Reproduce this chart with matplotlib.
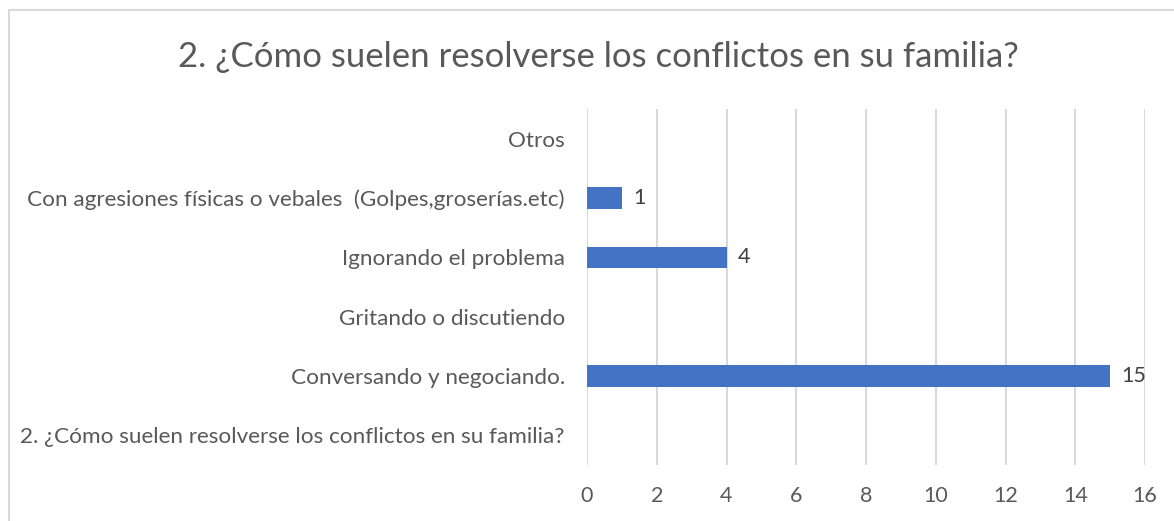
import numpy as np
import matplotlib
matplotlib.use("Agg")
import matplotlib.pyplot as plt
from matplotlib.patches import Rectangle

title = "2. ¿Cómo suelen resolverse los conflictos en su familia?"
categories = [
    "2. ¿Cómo suelen resolverse los conflictos en su familia?",
    "Conversando y negociando.",
    "Gritando o discutiendo",
    "Ignorando el problema",
    "Con agresiones físicas o vebales  (Golpes,groserías.etc)",
    "Otros",
]
values = [None, 15, None, 4, 1, None]
xticks = [0, 2, 4, 6, 8, 10, 12, 14, 16]

plt.rcParams['font.family'] = ['Lato', 'DejaVu Sans']
text_color = "#595959"
grid_color = "#d9d9d9"
bar_color = "#4472c4"

fig = plt.figure(figsize=(11.74, 5.21), dpi=100)
ax = fig.add_axes([587/1174, 1-465/521, (1145-587)/1174, (465-109)/521])

vals = np.array([np.nan if v is None else v for v in values], dtype=float)
y = np.arange(len(categories))
ax.barh(y, np.nan_to_num(vals), height=0.36, color=bar_color, zorder=3)
for yi, v in zip(y, vals):
    if not np.isnan(v):
        ax.annotate(f"{int(v)}", (v, yi), xytext=(8, 0), textcoords="offset points",
                    va="center", ha="left", fontsize=15.5, color="#404040")

ax.set_xlim(0, 16)
ax.set_ylim(-0.5, len(categories) - 0.5)
ax.set_xticks(xticks)
ax.set_xticklabels([str(t) for t in xticks])
ax.set_yticks(y)
ax.set_yticklabels(categories)
ax.tick_params(axis='both', length=0, colors=text_color, labelsize=15.5)
ax.tick_params(axis='y', labelsize=16.2, pad=16)
ax.tick_params(axis='x', pad=15)
ax.grid(axis='x', color=grid_color, linewidth=1.5, zorder=0)
for s in ax.spines.values():
    s.set_visible(False)

fig.text(598/1174, 1-57/521, title, ha='center', va='center', fontsize=25, color=text_color)

fig.patches.append(Rectangle((8.5/1174, -0.1), 1.2, 1-9.5/521 + 0.1, transform=fig.transFigure,
                             fill=False, edgecolor=grid_color, linewidth=1.5))

fig.savefig("out.png", dpi=100)
